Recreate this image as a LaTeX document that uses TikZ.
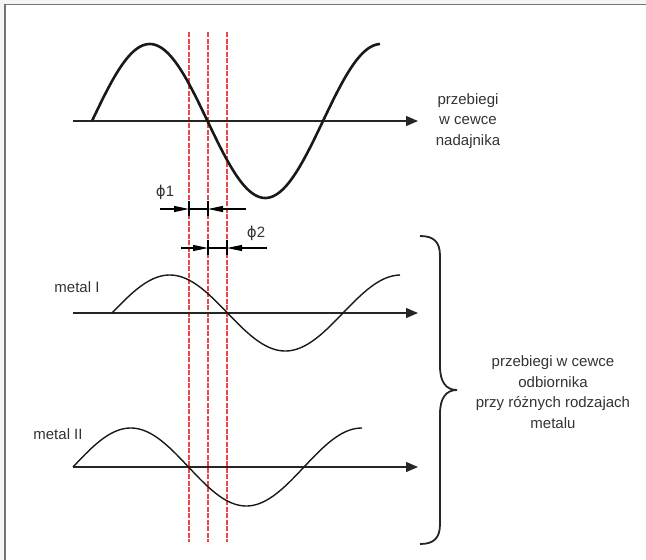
\documentclass[tikz,border=0pt]{standalone}
\usepackage{fontspec}
\setmainfont{Liberation Sans}
\newfontfamily\symfont{DejaVu Sans}
\usetikzlibrary{arrows.meta,positioning}
\definecolor{phasered}{RGB}{240,70,70}

\begin{document}
\begin{tikzpicture}[
  x=1pt, y=-1pt, >={Triangle[length=12pt,width=10pt]},
  axis/.style={draw, ->, line width=1.3pt, black!85},
  wavebig/.style={draw, line width=2.6pt, black!90, line join=round},
  wave/.style={draw, line width=1.4pt, black!90, line join=round},
  phase/.style={draw, phasered, line width=1.5pt, dash pattern=on 5pt off 1.5pt},
  dimline/.style={draw, line width=1.1pt, -{Triangle[length=15pt,width=6pt]}},
  dimtick/.style={draw, line width=2pt},
  lbl/.style={font=\fontsize{15}{20.5}\selectfont, text=black!80, align=center, inner sep=0pt}
]
  \useasboundingbox (0,0) rectangle (646,560);
  % frame of the page
  \fill[gray!8] (0,0) rectangle (646,5);
  \fill[green!6!gray!8] (0,0) rectangle (5,560);
  \draw[gray!90!black, line width=1.5pt] (5,560) -- (5,4.5) -- (646,4.5);

  % phase marks
  \foreach \px in {189,208,227}
    \draw[phase] (\px,32) -- (\px,542);

  % transmitter
  \coordinate (txs) at (73,121);
  \coordinate (txe) at (418,121);
  \draw[axis] (txs) -- (txe);
  \draw[wavebig] plot[domain=92:380, samples=120] (\x,{121-77*sin((\x-92)/231*360)});
  \node[lbl] (tx) at (468,121) {przebiegi\\w cewce\\nadajnika};

  % phi 1
  \coordinate (pa1) at (160,209);
  \coordinate (pl1) at (189,209);
  \coordinate (pr1) at (208,209);
  \coordinate (pb1) at (246,209);
  \draw[dimline] (pa1) -- (pl1);
  \draw[dimline] (pb1) -- (pr1);
  \draw[line width=1.1pt] (pl1) -- (pr1);
  \draw[dimtick] ([yshift=-7pt]pl1) -- ([yshift=8pt]pl1);
  \draw[dimtick] ([yshift=-7pt]pr1) -- ([yshift=8pt]pr1);
  \node[lbl] (phi1) at (165,192) {{\symfont ϕ}1};

  % phi 2
  \coordinate (pa2) at (181,248);
  \coordinate (pl2) at (208,248);
  \coordinate (pr2) at (227,248);
  \coordinate (pb2) at (267,248);
  \draw[dimline] (pa2) -- (pl2);
  \draw[dimline] (pb2) -- (pr2);
  \draw[line width=1.1pt] (pl2) -- (pr2);
  \draw[dimtick] ([yshift=-7pt]pl2) -- ([yshift=8pt]pl2);
  \draw[dimtick] ([yshift=-7pt]pr2) -- ([yshift=8pt]pr2);
  \node[lbl] (phi2) at (256,233) {{\symfont ϕ}2};

  % metal I
  \coordinate (m1s) at (73,313);
  \coordinate (m1e) at (418,313);
  \draw[axis] (m1s) -- (m1e);
  \draw[wave] plot[domain=112:400, samples=120] (\x,{313-38*sin((\x-112)/231*360)});
  \node[lbl] (met1) at (77,287) {metal I};

  % metal II
  \coordinate (m2s) at (73,467);
  \coordinate (m2e) at (418,467);
  \draw[axis] (m2s) -- (m2e);
  \draw[wave] plot[domain=73:362, samples=120] (\x,{467-39*sin((\x-73)/231*360)});
  \node[lbl] (met2) at (58,434) {metal II};

  % receiver brace
  \coordinate (brt) at (420,236);
  \coordinate (brm) at (457,390);
  \coordinate (brb) at (420,544);
  \draw[line width=1.8pt, black!85]
    (brt) .. controls (434,236) and (440,242) .. (440,256) -- (440,366)
    .. controls (440,382) and (446,390) .. (brm)
    .. controls (446,390) and (440,398) .. (440,414) -- (440,524)
    .. controls (440,538) and (434,544) .. (brb);
  \node[lbl] (rx) at (553,392) {przebiegi w cewce\\odbiornika\\przy różnych rodzajach\\metalu};
\end{tikzpicture}
\end{document}
